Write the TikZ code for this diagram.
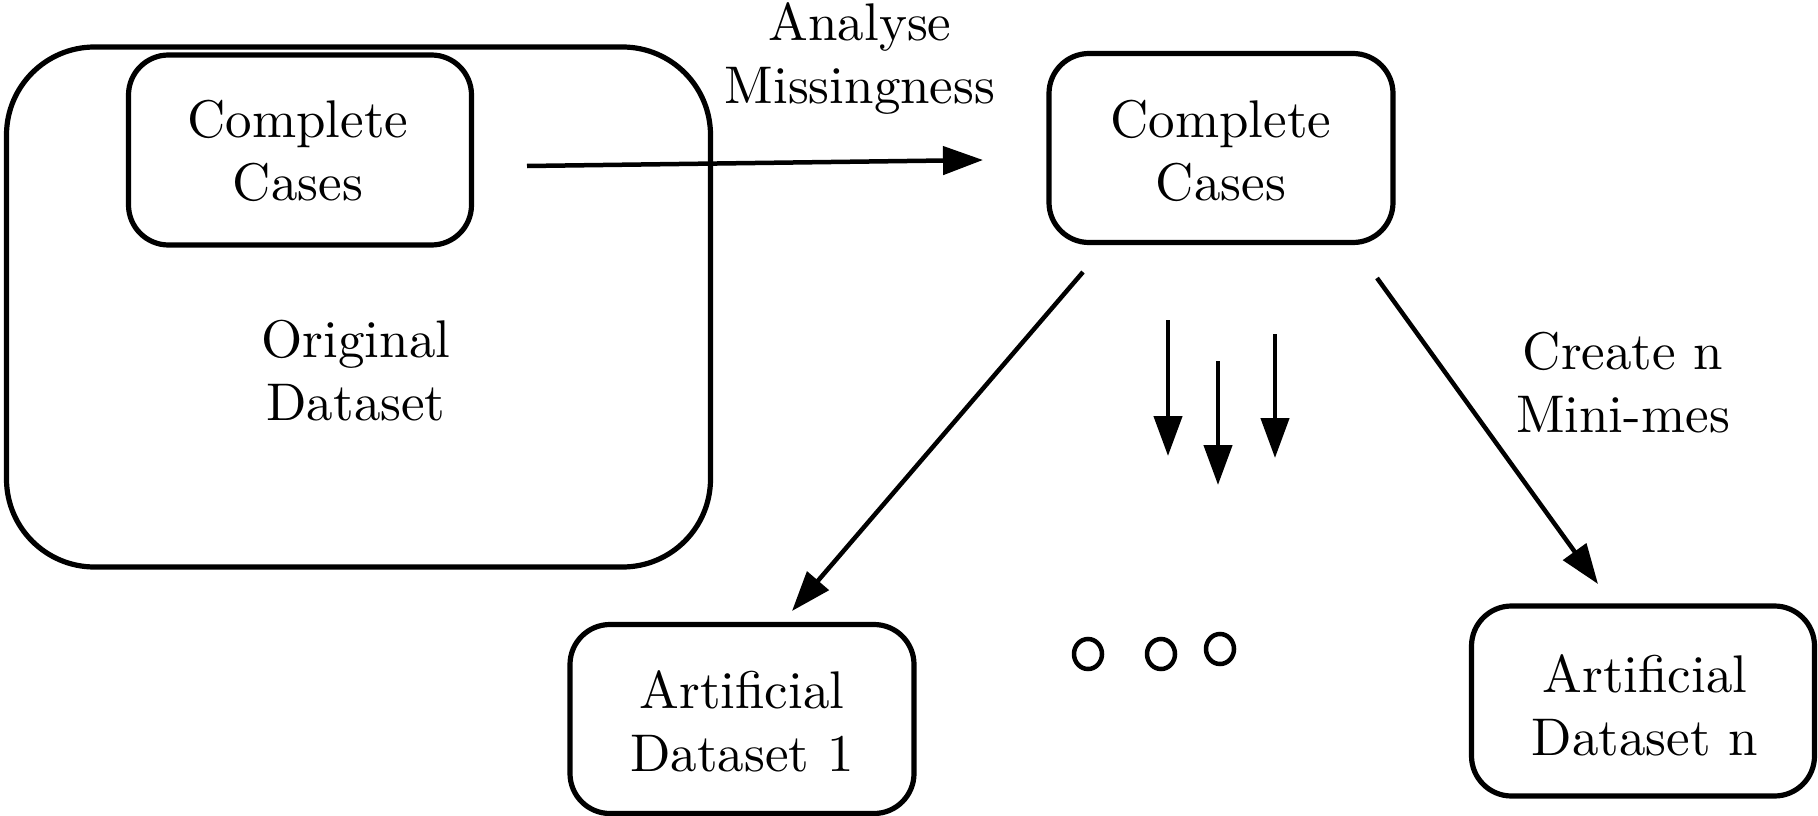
\documentclass[tikz,border=0pt]{standalone}
\usepackage{fontspec}
\setmainfont{lmroman10-regular}[Extension=.otf]
\usetikzlibrary{arrows.meta}
\begin{document}
\begin{tikzpicture}[x=1pt,y=-1pt,
  box/.style={draw,line width=5.2pt,rounded corners=40pt,align=center,inner sep=0pt},
  txt/.style={align=center,font=\fontsize{53}{63}\selectfont,inner sep=0pt},
  arr/.style={line width=4.5pt,-{Triangle[length=40pt,width=28pt]}}]
\useasboundingbox (0,0) rectangle (1818,816);
% outer box
\node[box,rounded corners=88pt,minimum width=704pt,minimum height=520pt] (orig) at (358.5,307) {};
\node[txt] (origtxt) at (356,371) {Original\\Dataset};
% inner complete cases
\node[box,minimum width=343pt,minimum height=190pt] (cc1) at (300,150) {};
\node[txt] (cc1txt) at (298,151) {Complete\\Cases};
% right complete cases
\node[box,minimum width=344pt,minimum height=189pt] (cc2) at (1221,148) {};
\node[txt] (cc2txt) at (1221,151) {Complete\\Cases};
% artificial datasets
\node[box,minimum width=344pt,minimum height=189pt] (ad1) at (742,719) {};
\node[txt] (ad1txt) at (742,721) {Artificial\\Dataset 1};
\node[box,minimum width=343pt,minimum height=190pt] (adn) at (1643,701) {};
\node[txt] (adntxt) at (1645,705) {Artificial\\Dataset n};
% labels
\node[txt] (lab1) at (860,58) {Analyse\\Missingness};
\node[txt] (lab2) at (1623,383) {Create n\\Mini-mes};
% connector end points
\coordinate (a1s) at (527,166);
\coordinate (a1e) at (983,160);
\coordinate (a2s) at (1083,272);
\coordinate (a2e) at (792,611);
\coordinate (a3s) at (1377,278);
\coordinate (a3e) at (1598,584);
\coordinate (s1s) at (1168,320);
\coordinate (s1e) at (1168,456);
\coordinate (s2s) at (1218,361);
\coordinate (s2e) at (1218,485);
\coordinate (s3s) at (1275,334);
\coordinate (s3e) at (1275,458);
\draw[arr] (a1s) -- (a1e);
\draw[arr] (a2s) -- (a2e);
\draw[arr] (a3s) -- (a3e);
\draw[arr] (s1s) -- (s1e);
\draw[arr] (s2s) -- (s2e);
\draw[arr] (s3s) -- (s3e);
% dots
\draw[line width=4.5pt] (1088,654) circle[x radius=14pt,y radius=15pt];
\draw[line width=4.5pt] (1161,654) circle[x radius=14pt,y radius=15pt];
\draw[line width=4.5pt] (1220,649) circle[x radius=14pt,y radius=15pt];
\end{tikzpicture}
\end{document}
